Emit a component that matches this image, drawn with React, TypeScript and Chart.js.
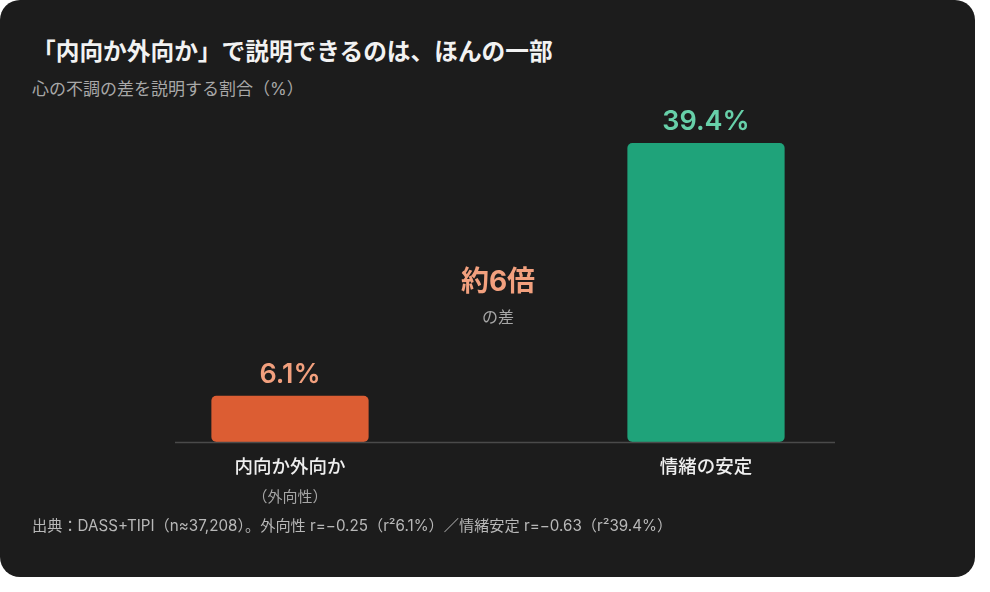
import React, { useEffect, useRef } from "react";
import { Chart, registerables } from "chart.js";

Chart.register(...registerables);

const categories = ["内向か外向か", "情緒の安定"];
const subLabels = ["（外向性）", ""];
const values = [6.1, 39.4];
const valueLabels = ["6.1%", "39.4%"];
const barColors = ["#dc5d33", "#1fa37a"];
const labelColors = ["#f2a07e", "#67d0a9"];
const ratioText = "約6倍";
const ratioSub = "の差";
const ratioAnchorValue = 21;
const yMax = 44;

const FONT = "Inter, 'Noto Sans CJK JP', sans-serif";

const overlayPlugin = {
  id: "overlay",
  afterDatasetsDraw(chart: any) {
    const { ctx, chartArea, scales } = chart;
    const meta = chart.getDatasetMeta(0);
    const bars = meta.data;
    ctx.save();
    // baseline
    ctx.strokeStyle = "#4a4a4a";
    ctx.lineWidth = 1.5;
    ctx.beginPath();
    ctx.moveTo(chartArea.left + 93, chartArea.bottom + 0.5);
    ctx.lineTo(chartArea.right - 79, chartArea.bottom + 0.5);
    ctx.stroke();

    ctx.textAlign = "center";
    ctx.textBaseline = "middle";
    bars.forEach((bar: any, i: number) => {
      ctx.fillStyle = labelColors[i];
      ctx.font = `600 27px ${FONT}`;
      ctx.fillText(valueLabels[i], bar.x, bar.y - 21);

      ctx.fillStyle = "#efefef";
      ctx.font = `500 18.5px ${FONT}`;
      ctx.fillText(categories[i], bar.x, chartArea.bottom + 25);
      if (subLabels[i]) {
        ctx.fillStyle = "#a6a6a6";
        ctx.font = `400 15px ${FONT}`;
        ctx.fillText(subLabels[i], bar.x, chartArea.bottom + 55);
      }
    });

    if (bars.length >= 2) {
      const mx = (bars[0].x + bars[1].x) / 2;
      const my = scales.y.getPixelForValue(ratioAnchorValue);
      ctx.fillStyle = "#f2a07e";
      ctx.font = `700 28px ${FONT}`;
      ctx.fillText(ratioText, mx, my);
      ctx.fillStyle = "#a6a6a6";
      ctx.font = `400 16px ${FONT}`;
      ctx.fillText(ratioSub, mx, my + 36);
    }
    ctx.restore();
  },
};

export default function App() {
  const canvasRef = useRef<HTMLCanvasElement | null>(null);

  useEffect(() => {
    if (!canvasRef.current) return;
    const chart = new Chart(canvasRef.current, {
      type: "bar",
      data: {
        labels: categories,
        datasets: [
          {
            data: values,
            backgroundColor: barColors,
            borderRadius: 5,
            borderSkipped: false,
            categoryPercentage: 1,
            barPercentage: 0.378,
          },
        ],
      },
      options: {
        animation: false,
        responsive: true,
        maintainAspectRatio: false,
        layout: { padding: { left: 82, right: 61, top: 8, bottom: 78 } },
        plugins: {
          legend: { display: false },
          tooltip: { enabled: false },
        },
        scales: {
          x: { display: false },
          y: { display: false, min: 0, max: yMax },
        },
      },
      plugins: [overlayPlugin],
    });
    (document as any).fonts?.ready?.then(() => chart.update());
    return () => chart.destroy();
  }, []);

  return (
    <div
      style={{
        position: "fixed",
        left: 0,
        top: 0,
        width: 975,
        height: 577,
        background: "#1c1c1c",
        borderRadius: 20,
        overflow: "hidden",
        fontFamily: FONT,
      }}
    >
      <div
        style={{
          position: "absolute",
          left: 32,
          top: 38,
          fontSize: 23.7,
          lineHeight: "28px",
          fontWeight: 700,
          color: "#f2f2f2",
          whiteSpace: "nowrap",
        }}
      >
        「内向か外向か」で説明できるのは、ほんの一部
      </div>
      <div
        style={{
          position: "absolute",
          left: 32,
          top: 79,
          fontSize: 17,
          lineHeight: "20px",
          color: "#a8a8a8",
          whiteSpace: "nowrap",
        }}
      >
        心の不調の差を説明する割合（%）
      </div>
      <div style={{ position: "absolute", left: 0, top: 100, width: 975, height: 420 }}>
        <canvas ref={canvasRef} />
      </div>
      <div
        style={{
          position: "absolute",
          left: 32,
          top: 516,
          fontSize: 15.2,
          lineHeight: "19px",
          color: "#b8b8b8",
          whiteSpace: "nowrap",
        }}
      >
        出典：DASS+TIPI（n≈37,208）。外向性 r=−0.25（r²6.1%）／情緒安定 r=−0.63（r²39.4%）
      </div>
    </div>
  );
}
